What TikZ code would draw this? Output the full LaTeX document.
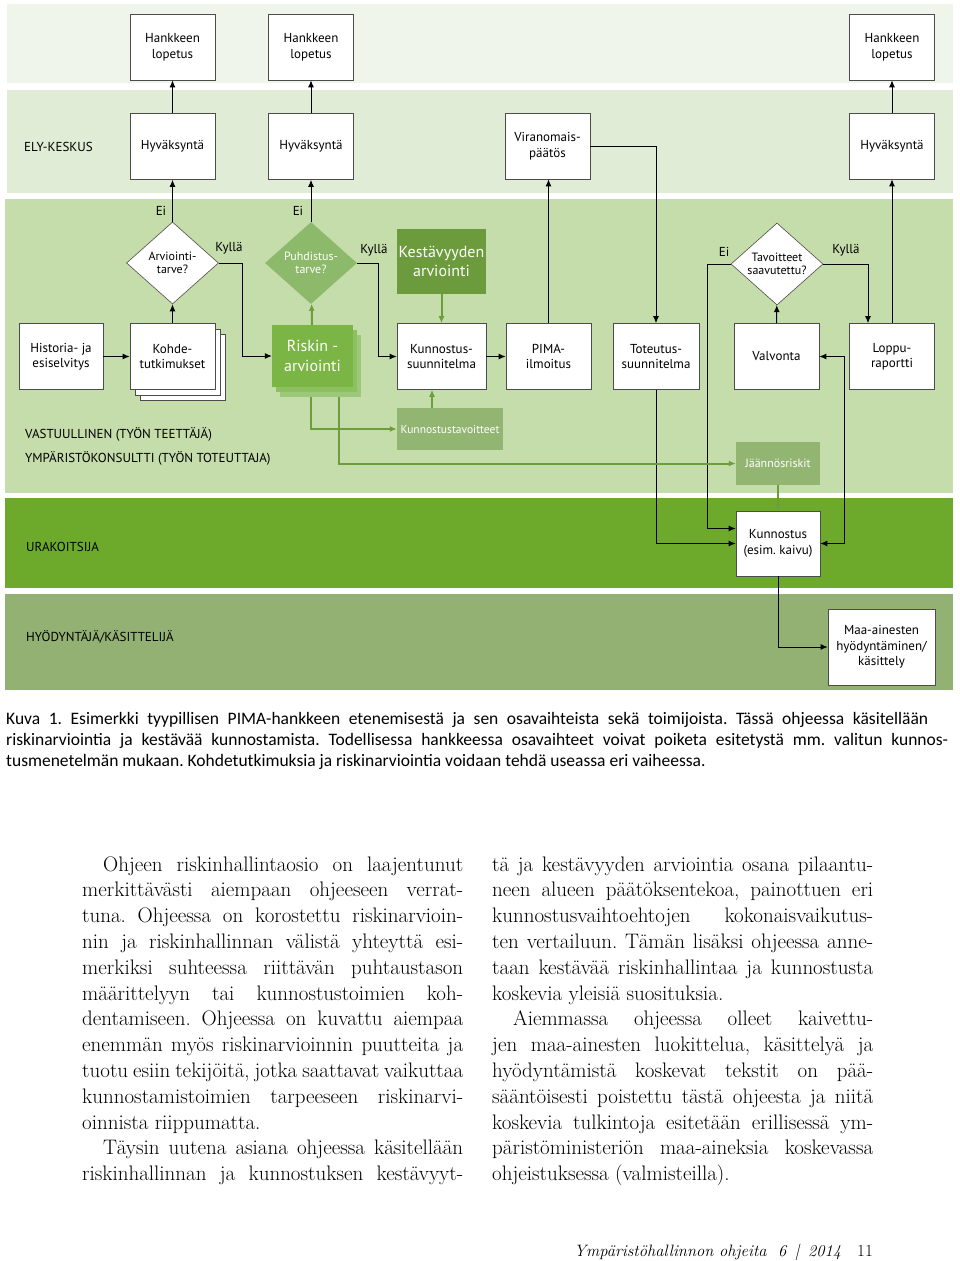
\documentclass[tikz,border=0pt]{standalone}
\usepackage{fontspec}
\newfontfamily\diafont{PT Sans}
\newfontfamily\capfnt{Carlito}
\usetikzlibrary{shapes.geometric,arrows.meta,positioning}
\frenchspacing

\definecolor{bandA}{HTML}{EFF5EB}
\definecolor{bandB}{HTML}{E0ECD6}
\definecolor{bandC}{HTML}{C5DDAA}
\definecolor{bandD}{HTML}{6DAA2C}
\definecolor{bandE}{HTML}{93B172}
\definecolor{kestc}{HTML}{6B9B3D}
\definecolor{puhc}{HTML}{8DB96A}
\definecolor{riskc}{HTML}{7BB545}
\definecolor{riska}{HTML}{8CC060}
\definecolor{riskb}{HTML}{9CC87A}
\definecolor{sidec}{HTML}{92B672}
\definecolor{garrc}{HTML}{6E9E3C}

% one justified line of the body text
\newdimen\colw
\colw=381pt
\newcommand\jline[1]{\par\hbox to\colw{#1}}
\newcommand\indline[1]{\par\hbox to\colw{\hskip21pt #1}}
\newcommand\lastline[1]{\par\hbox{#1}}

\begin{document}
\begin{tikzpicture}[x=1pt,y=-1pt,>={Latex[length=7pt,width=6pt]},
  txt/.style={font=\diafont\fontsize{13}{15.5}\selectfont,inner sep=0pt},
  box/.style={txt,draw=black!70,fill=white,line width=0.6pt,minimum width=85pt,minimum height=66pt,align=center},
  dia/.style={txt,diamond,draw=black!70,fill=white,line width=0.6pt,minimum width=92pt,minimum height=82pt,align=center,font=\diafont\fontsize{12}{13.5}\selectfont},
  gbox/.style={txt,fill=#1,text=white,align=center},
  arr/.style={->,line width=1pt,black},
  garr/.style={->,line width=2pt,garrc},
  body/.style={inner sep=0pt,text width=381pt,align=justify,font=\fontsize{21}{25.8}\selectfont},
  capt/.style={inner sep=0pt,font=\capfnt\fontsize{17.5}{21}\selectfont}]
  \fill[white] (0,0) rectangle (960,1261);
  \useasboundingbox (0,0) rectangle (960,1261);
% lanes
  \fill[bandA] (7,4) rectangle (953,83);
  \fill[bandB] (7,90) rectangle (953,193);
  \fill[bandC] (5,199) rectangle (953,493);
  \fill[bandD] (5,498) rectangle (953,588);
  \fill[bandE] (5,594) rectangle (953,690);
  \node[txt,anchor=west] (ely) at (24,147) {ELY-KESKUS};
  \node[txt,anchor=west] (vast) at (25,434) {VASTUULLINEN (TYÖN TEETTÄJÄ)};
  \node[txt,anchor=west] (ymp) at (25,458) {YMPÄRISTÖKONSULTTI (TYÖN TOTEUTTAJA)};
  \node[txt,anchor=west] (urak) at (26,547) {URAKOITSIJA};
  \node[txt,anchor=west] (hyod) at (26,637) {HYÖDYNTÄJÄ/KÄSITTELIJÄ};
% top rows
  \node[box] (hl1) at (172.5,47) {Hankkeen\\lopetus};
  \node[box] (hl2) at (311,47) {Hankkeen\\lopetus};
  \node[box] (hl3) at (892,47) {Hankkeen\\lopetus};
  \node[box] (hv1) at (172.5,146.5) {Hyväksyntä};
  \node[box] (hv2) at (311,146.5) {Hyväksyntä};
  \node[box] (vp) at (547.5,146) {Viranomais-\\päätös};
  \node[box] (hv3) at (892,146) {Hyväksyntä};
% decisions
  \node[dia] (d1) at (172.5,263) {Arviointi-\\tarve?};
  \node[dia,fill=puhc,draw=none,text=white] (d2) at (311,263) {Puhdistus-\\tarve?};
  \node[dia] (d3) at (777,264) {Tavoitteet\\saavutettu?};
  \node[gbox=kestc,minimum width=89pt,minimum height=65pt,font=\diafont\fontsize{16}{19}\selectfont] (kest) at (441.5,261.5) {Kestävyyden\\arviointi};
  \node[txt] (ei1) at (161,211) {Ei};
  \node[txt] (ei2) at (298,211) {Ei};
  \node[txt] (ei3) at (724,252) {Ei};
  \node[txt] (ky1) at (229,248) {Kyllä};
  \node[txt] (ky2) at (374,250) {Kyllä};
  \node[txt] (ky3) at (846,250) {Kyllä};
% process row
  \node[box,minimum width=84pt] (hist) at (61,356.5) {Historia- ja\\esiselvitys};
  \node[box] (kohdeb) at (183,367.5) {};
  \node[box] (kohdea) at (177.5,362) {};
  \node[box] (kohde) at (172.5,356.5) {Kohde-\\tutkimukset};
  \node[gbox=riskb,minimum width=81pt,minimum height=62pt] (riskbk) at (320.5,366) {};
  \node[gbox=riska,minimum width=81pt,minimum height=62pt] (riskmd) at (316.5,361) {};
  \node[gbox=riskc,minimum width=81pt,minimum height=62pt,font=\diafont\fontsize{16}{20}\selectfont] (risk) at (312.5,356) {Riskin -\\arviointi};
  \node[box,minimum width=89pt] (kunsu) at (441.5,356.5) {Kunnostus-\\suunnitelma};
  \node[box] (pima) at (548.5,356.5) {PIMA-\\ilmoitus};
  \node[box,minimum width=86pt] (tot) at (656,356.5) {Toteutus-\\suunnitelma};
  \node[box] (valv) at (776.5,356.5) {Valvonta};
  \node[box] (lopp) at (892,356.5) {Loppu-\\raportti};
% lower lanes
  \node[gbox=sidec,minimum width=106pt,minimum height=42pt,font=\diafont\fontsize{11.5}{14}\selectfont] (kt) at (450,429) {Kunnostustavoitteet};
  \node[gbox=sidec,minimum width=84pt,minimum height=43pt,font=\diafont\fontsize{12}{14}\selectfont] (jr) at (778,463.5) {Jäännösriskit};
  \node[box,minimum width=84pt,minimum height=65pt] (kun) at (778,543.5) {Kunnostus\\(esim. kaivu)};
  \node[box,minimum width=107pt,minimum height=76pt] (maa) at (881.5,647) {Maa-ainesten\\hyödyntäminen/\\käsittely};
% connectors
  \draw[arr] (hv1) -- (hl1);
  \draw[arr] (hv2) -- (hl2);
  \draw[arr] (hv3) -- (hl3);
  \draw[arr] (d1) -- (hv1);
  \draw[arr] (d2) -- (hv2);
  \draw[arr] (hist) -- (kohde);
  \draw[arr] (kohde) -- (d1);
  \draw[arr] (d1.east) -- ++(24,0) |- (risk.west);
  \draw[garr] (risk) -- (d2);
  \draw[arr] (d2.east) -- ++(21,0) |- (kunsu.west);
  \draw[garr] (kest) -- (kunsu);
  \draw[arr] (kunsu) -- (pima);
  \draw[arr] (pima.north) -- (pima.north |- vp.south);
  \draw[arr] (vp.east) -| (tot.north);
  \draw[arr] (tot.south) |- (kun.west);
  \draw[arr] (valv) -- (d3);
  \draw[arr] (d3.west) -- ++(-23,0) |- ([yshift=15pt]kun.west);
  \draw[arr] (d3.east) -| ([xshift=-24pt]lopp.north);
  \draw[arr] (lopp) -- (hv3);
  \draw[arr,<->] (kun.east) -- ++(24,0) |- (valv.east);
  \draw[garr] ([xshift=-9.5pt]riskbk.south) |- (kt.west);
  \draw[garr] ([xshift=18.5pt]riskbk.south) |- (jr.west);
  \draw[garr] ([xshift=-18pt]kt.north) -- ([xshift=-18pt]kt.north |- kunsu.south);
  \draw[garr] (jr) -- (kun);
  \draw[arr] (kun.south) |- (maa.west);
% caption
  \node[capt,anchor=base west] (cap1) at (6,724) {\hbox to 922pt{Kuva 1. Esimerkki tyypillisen PIMA-hankkeen etenemisestä ja sen osavaihteista sekä toimijoista. Tässä ohjeessa käsitellään}};
  \node[capt,anchor=base west] (cap2) at (6,745) {\hbox to 942pt{riskinarviointia ja kestävää kunnostamista. Todellisessa hankkeessa osavaihteet voivat poiketa esitetystä mm. valitun kunnos-}};
  \node[capt,anchor=base west] (cap3) at (6,766) {tusmenetelmän mukaan. Kohdetutkimuksia ja riskinarviointia voidaan tehdä useassa eri vaiheessa.};
% body text
  \node[body,anchor=north west] (colL) at (82,845) {%
    \indline{Ohjeen riskinhallintaosio on laajentunut}
    \jline{merkittävästi aiempaan ohjeeseen verrat-}
    \jline{tuna. Ohjeessa on korostettu riskinarvioin-}
    \jline{nin ja riskinhallinnan välistä yhteyttä esi-}
    \jline{merkiksi suhteessa riittävän puhtaustason}
    \jline{määrittelyyn tai kunnostustoimien koh-}
    \jline{dentamiseen. Ohjeessa on kuvattu aiempaa}
    \jline{enemmän myös riskinarvioinnin puutteita ja}
    \jline{tuotu esiin tekijöitä, jotka saattavat vaikuttaa}
    \jline{kunnostamistoimien tarpeeseen riskinarvi-}
    \lastline{oinnista riippumatta.}
    \indline{Täysin uutena asiana ohjeessa käsitellään}
    \jline{riskinhallinnan ja kunnostuksen kestävyyt-}};
  \node[body,anchor=north west] (colR) at (492,845) {%
    \jline{tä ja kestävyyden arviointia osana pilaantu-}
    \jline{neen alueen päätöksentekoa, painottuen eri}
    \jline{kunnostusvaihtoehtojen kokonaisvaikutus-}
    \jline{ten vertailuun. Tämän lisäksi ohjeessa anne-}
    \jline{taan kestävää riskinhallintaa ja kunnostusta}
    \lastline{koskevia yleisiä suosituksia.}
    \indline{Aiemmassa ohjeessa olleet kaivettu-}
    \jline{jen maa-ainesten luokittelua, käsittelyä ja}
    \jline{hyödyntämistä koskevat tekstit on pää-}
    \jline{sääntöisesti poistettu tästä ohjeesta ja niitä}
    \jline{koskevia tulkintoja esitetään erillisessä ym-}
    \jline{päristöministeriön maa-aineksia koskevassa}
    \lastline{ohjeistuksessa (valmisteilla).}};
% footer
  \node[inner sep=0pt,anchor=base west,font=\itshape\fontsize{16.5}{20}\selectfont] (foot) at (574,1256) {Ympäristöhallinnon ohjeita~~6~\,|~\,2014};
  \node[inner sep=0pt,anchor=base west,font=\fontsize{17}{20}\selectfont] (page) at (857,1256) {11};
\end{tikzpicture}
\end{document}
